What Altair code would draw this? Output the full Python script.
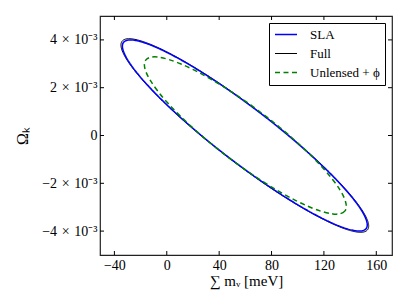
import altair as alt
import pandas as pd

# ---- data (x in meV, y in units of 1e-3) ----
series = ["SLA", "Full", "Unlensed + ϕ"]

sla_x = [153.1, 151.68, 147.46, 140.57, 131.22, 119.70, 106.35, 91.58, 75.83, 59.6,
         43.37, 27.62, 12.85, -0.5, -12.02, -21.37, -28.26, -32.48, -33.9, -32.48,
         -28.26, -21.37, -12.02, -0.5, 12.85, 27.62, 43.37, 59.6, 75.83, 91.58,
         106.35, 119.70, 131.22, 140.57, 147.46, 151.68]
sla_y = [-3.739, -3.929, -4.000, -3.948, -3.778, -3.492, -3.100, -2.614, -2.048, -1.420,
         -0.750, -0.056, 0.640, 1.316, 1.952, 2.528, 3.028, 3.436, 3.739, 3.929,
         4.000, 3.948, 3.778, 3.492, 3.100, 2.614, 2.048, 1.420, 0.750, 0.056,
         -0.640, -1.316, -1.952, -2.528, -3.028, -3.436]

full_x = [154.2, 152.76, 148.5, 141.52, 132.06, 120.41, 106.9, 91.95, 76.02, 59.6,
          43.18, 27.25, 12.3, -1.21, -12.86, -22.32, -29.3, -33.56, -35.0, -33.56,
          -29.3, -22.32, -12.86, -1.21, 12.3, 27.25, 43.18, 59.6, 76.02, 91.95,
          106.9, 120.41, 132.06, 141.52, 148.5, 152.76]
full_y = [-3.786, -3.978, -4.050, -3.998, -3.825, -3.535, -3.138, -2.646, -2.074, -1.438,
          -0.759, -0.057, 0.648, 1.332, 1.976, 2.560, 3.066, 3.479, 3.786, 3.978,
          4.050, 3.998, 3.825, 3.535, 3.138, 2.646, 2.074, 1.438, 0.759, 0.057,
          -0.648, -1.332, -1.976, -2.560, -3.066, -3.479]

unl_x = [137.1, 135.93, 132.45, 126.77, 119.06, 109.56, 98.55, 86.37, 73.38, 60.0,
         46.62, 33.63, 21.45, 10.44, 0.94, -6.77, -12.45, -15.93, -17.1, -15.93,
         -12.45, -6.77, 0.94, 10.44, 21.45, 33.63, 46.62, 60.0, 73.38, 86.37,
         98.55, 109.56, 119.06, 126.77, 132.45, 135.93]
unl_y = [-2.961, -3.165, -3.273, -3.281, -3.190, -3.002, -2.722, -2.360, -1.926, -1.434,
         -0.898, -0.335, 0.239, 0.805, 1.347, 1.848, 2.293, 2.667, 2.961, 3.165,
         3.273, 3.281, 3.190, 3.002, 2.722, 2.360, 1.926, 1.434, 0.898, 0.335,
         -0.239, -0.805, -1.347, -1.848, -2.293, -2.667]

x_ticks = [-40, 0, 40, 80, 120, 160]
y_ticks = [-4, -2, 0, 2, 4]

W, H = 292, 239
FONT = "Liberation Serif"


def frame(name, xs, ys):
    return pd.DataFrame({"x": xs, "y": ys, "series": name, "idx": list(range(len(xs)))})


xscale = alt.Scale(domain=[-51, 172], nice=False, zero=False)
yscale = alt.Scale(domain=[-5, 5], nice=False, zero=False)

xaxis = alt.Axis(values=x_ticks, title="∑ mᵥ [meV]", ticks=False, domain=False, grid=False,
                 labelFont=FONT, labelFontSize=14, labelPadding=3, labelColor="black",
                 titleFont=FONT, titleFontSize=15, titleFontWeight="normal", titleColor="black",
                 titleY=18, titleBaseline="top")
yaxis = alt.Axis(values=y_ticks, title="Ωₖ", ticks=False, domain=False, grid=False,
                 labelFont=FONT, labelFontSize=14, labelPadding=3, labelColor="black",
                 labelExpr="datum.value == 0 ? '0' : (datum.value < 0 ? '−' : '') + abs(datum.value) + '\u2004×\u200410⁻³'",
                 titleFont=FONT, titleFontSize=16, titleFontWeight="normal", titleColor="black",
                 titleX=-73, titleY=H / 2, titleAngle=270, titleAlign="center",
                 titleBaseline="alphabetic")

legend = alt.Legend(title=None, orient="top-right", offset=7, padding=5, rowPadding=5,
                    strokeColor="black", fillColor="white", cornerRadius=0,
                    labelFont=FONT, labelFontSize=13, labelColor="black",
                    symbolType="stroke", symbolSize=484, labelOffset=12, clipHeight=13)

color = alt.Color("series:N", scale=alt.Scale(domain=series, range=["#0000ff", "#000000", "#008000"]),
                  legend=legend)
dash = alt.StrokeDash("series:N", scale=alt.Scale(domain=series, range=[[1, 0], [1, 0], [5, 3.5]]),
                      legend=legend)
width = alt.StrokeWidth("series:N",
                        scale=alt.Scale(type="ordinal", domain=series, range=[1.5, 1.0, 1.5]),
                        legend=legend)


def curve(df):
    return alt.Chart(df).mark_line(interpolate="cardinal-closed").encode(
        x=alt.X("x:Q", scale=xscale, axis=xaxis),
        y=alt.Y("y:Q", scale=yscale, axis=yaxis),
        color=color, strokeDash=dash, strokeWidth=width,
        order=alt.Order("idx:Q"),
    )


xt = pd.DataFrame({"x": x_ticks})
yt = pd.DataFrame({"y": y_ticks})
tick_style = dict(color="black", strokeWidth=1)

ticks_bottom = alt.Chart(xt).mark_rule(**tick_style).encode(
    x=alt.X("x:Q", scale=xscale, axis=xaxis), y=alt.value(H), y2=alt.value(H - 4))
ticks_top = alt.Chart(xt).mark_rule(**tick_style).encode(
    x=alt.X("x:Q", scale=xscale, axis=xaxis), y=alt.value(0), y2=alt.value(4))
ticks_left = alt.Chart(yt).mark_rule(**tick_style).encode(
    y=alt.Y("y:Q", scale=yscale, axis=yaxis), x=alt.value(0), x2=alt.value(4))
ticks_right = alt.Chart(yt).mark_rule(**tick_style).encode(
    y=alt.Y("y:Q", scale=yscale, axis=yaxis), x=alt.value(W), x2=alt.value(W - 4))

chart = alt.layer(
    curve(frame("Full", full_x, full_y)),
    curve(frame("SLA", sla_x, sla_y)),
    curve(frame("Unlensed + ϕ", unl_x, unl_y)),
    ticks_bottom, ticks_top, ticks_left, ticks_right,
).properties(
    width=W, height=H,
    autosize=alt.AutoSizeParams(type="none"),
    padding={"left": 92, "top": 8, "right": 7, "bottom": 42},
    background="white",
).configure_view(stroke="#222222", strokeWidth=1.2)

chart.save("out.html", embed_options={"renderer": "svg", "actions": False})
